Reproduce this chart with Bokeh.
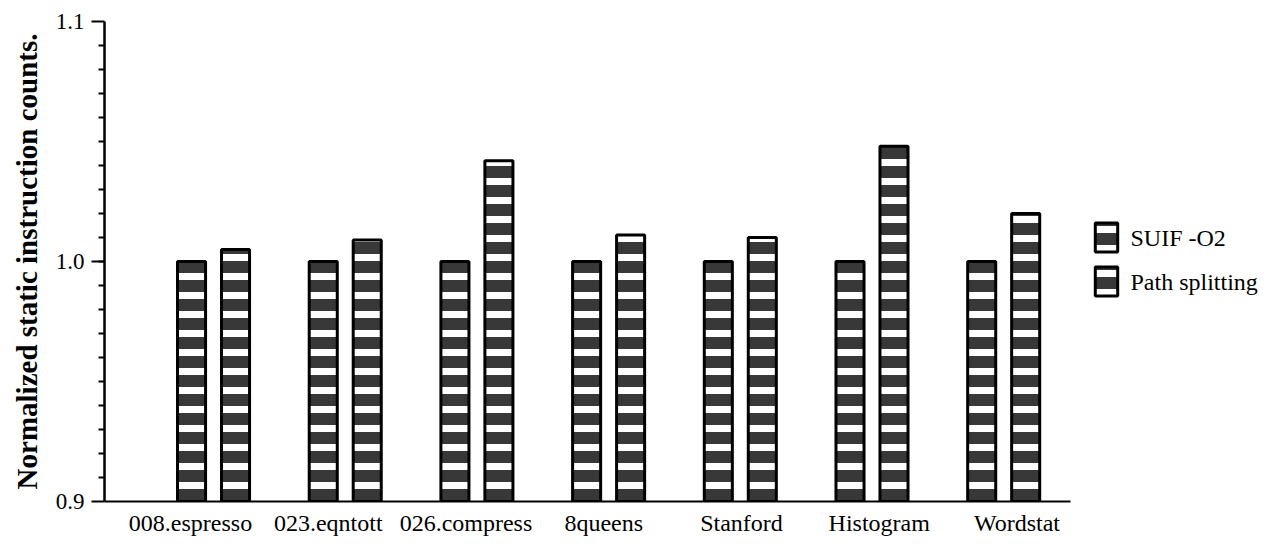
from bokeh.plotting import figure
from bokeh.models import (Range1d, FixedTicker, Legend, LegendItem,
                          NumeralTickFormatter, ColumnDataSource)
from bokeh.core.properties import value
from bokeh.embed import file_html
from bokeh.resources import INLINE

# Benchmarks and normalized static instruction counts
benchmarks = ["008.espresso", "023.eqntott", "026.compress", "8queens",
              "Stanford", "Histogram", "Wordstat"]
suif_o2 = [1.000, 1.000, 1.000, 1.000, 1.000, 1.000, 1.000]
path_splitting = [1.005, 1.009, 1.042, 1.011, 1.010, 1.048, 1.020]
series_names = ["SUIF -O2", "Path splitting"]
y_ticks = [0.9, 1.0, 1.1]

# Layout of the grouped bars (x units: one benchmark group per unit)
BAR_OFFSET = 0.167
BAR_WIDTH = 0.213
LABEL_START = -0.175
LABEL_STEP = 1.046
X_START = -0.828      # left edge of the plotting area
AXIS_END = 6.507      # where the category axis line stops
X_END = 8.064         # right edge of the canvas (room for the legend)

# Legend text placement (data units, next to the legend swatches)
LEGEND_TEXT_X = 6.963
LEGEND_TEXT_Y = [1.0100, 0.9915]

FONT = "Liberation Serif"

idx = list(range(len(benchmarks)))
suif_x = [i - BAR_OFFSET for i in idx]
path_x = [i + BAR_OFFSET for i in idx]
label_x = [LABEL_START + i * LABEL_STEP for i in idx]

p = figure(width=1275, height=544,
           x_range=Range1d(X_START, X_END), y_range=Range1d(0.9, 1.1),
           output_backend="svg", toolbar_location=None,
           min_border_left=104, min_border_top=21, min_border_bottom=43,
           min_border_right=0)
p.outline_line_color = None
p.xgrid.visible = False
p.ygrid.visible = False
p.background_fill_color = "white"
p.border_fill_color = "white"

bar_style = dict(bottom=0.9, width=BAR_WIDTH, fill_color="#383838",
                 line_color="black", line_width=3,
                 hatch_pattern="horizontal_line", hatch_color="white",
                 hatch_weight=7, hatch_scale=19)

r_suif = p.vbar(x=suif_x, top=suif_o2, **bar_style)
r_path = p.vbar(x=path_x, top=path_splitting, **bar_style)

# X axis: benchmark names under each group, no tick marks
xa = p.xaxis[0]
xa.bounds = (X_START, AXIS_END)
xa.ticker = FixedTicker(ticks=label_x, minor_ticks=[])
xa.major_label_overrides = {x: name for x, name in zip(label_x, benchmarks)}
xa.major_tick_out = 0
xa.major_tick_in = 0
xa.minor_tick_out = 0
xa.minor_tick_in = 0
xa.axis_line_width = 2
xa.axis_line_color = "black"
xa.major_label_standoff = 8
xa.major_label_text_font = FONT
xa.major_label_text_font_size = "24px"
xa.major_label_text_color = "black"

# Y axis: major ticks every 0.1, minor every 0.01
ya = p.yaxis[0]
ya.ticker = FixedTicker(ticks=y_ticks,
                        minor_ticks=[round(0.9 + 0.01 * k, 2) for k in range(1, 20)])
ya.formatter = NumeralTickFormatter(format="0.0")
ya.major_tick_out = 13
ya.major_tick_in = 0
ya.minor_tick_out = 6
ya.minor_tick_in = 0
ya.major_tick_line_width = 2
ya.minor_tick_line_width = 2
ya.axis_line_width = 2.5
ya.axis_line_color = "black"
ya.major_tick_line_color = "black"
ya.minor_tick_line_color = "black"
ya.major_label_standoff = 7
ya.major_label_text_font = FONT
ya.major_label_text_font_size = "23px"
ya.major_label_text_color = "black"
ya.axis_label = "Normalized static instruction counts."
ya.axis_label_text_font = FONT
ya.axis_label_text_font_style = "bold"
ya.axis_label_text_font_size = "29px"
ya.axis_label_text_color = "black"
ya.axis_label_standoff = 10

# Legend swatches right of the bars; the series names are set beside them
legend = Legend(items=[LegendItem(label=" ", renderers=[r_suif]),
                       LegendItem(label=" ", renderers=[r_path])],
                location=(988, 202), glyph_width=28, glyph_height=36, spacing=8,
                label_text_font_size="24px", label_standoff=8,
                border_line_color=None, background_fill_alpha=0,
                margin=0, padding=10)
p.add_layout(legend)

names_src = ColumnDataSource(data=dict(x=[LEGEND_TEXT_X] * len(series_names),
                                       y=LEGEND_TEXT_Y, text=series_names))
p.text(x="x", y="y", text="text", source=names_src,
       text_font=value(FONT), text_font_size="24px", text_color="black",
       text_align="left", text_baseline="middle")

open("out.html", "w").write(file_html(p, INLINE))
